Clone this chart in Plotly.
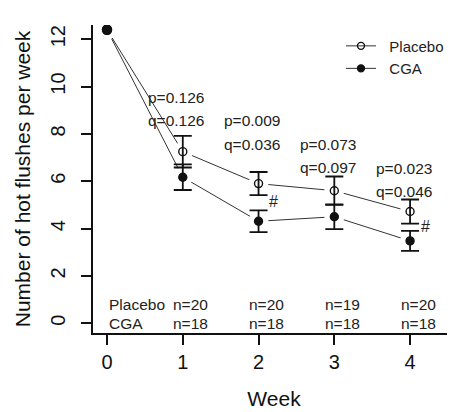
import plotly.graph_objects as go

# ---- data ----
weeks = [0, 1, 2, 3, 4]
placebo_mean = [12.4, 7.25, 5.9, 5.6, 4.72]
placebo_err = [None, 0.67, 0.49, 0.6, 0.51]
cga_mean = [12.4, 6.17, 4.31, 4.5, 3.48]
cga_err = [None, 0.54, 0.46, 0.52, 0.42]

p_labels = ["p=0.126", "p=0.009", "p=0.073", "p=0.023"]
q_labels = ["q=0.126", "q=0.036", "q=0.097", "q=0.046"]
label_weeks = [1, 2, 3, 4]
hash_weeks = [2, 4]

n_placebo = ["n=20", "n=20", "n=19", "n=20"]
n_cga = ["n=18", "n=18", "n=18", "n=18"]
group_names = ["Placebo", "CGA"]

FONT = "Liberation Sans, Arial, Helvetica, sans-serif"
INK = "#111111"
PAD = "\u00a0\u00a0"

fig = go.Figure()

series = [
    ("Placebo", placebo_mean, placebo_err, "circle-open"),
    ("CGA", cga_mean, cga_err, "circle"),
]

# connecting lines (with markers, used for legend)
for name, m, e, sym in series:
    fig.add_trace(go.Scatter(
        x=weeks, y=m, mode="lines+markers", name=PAD + name,
        line=dict(color="#333333", width=1),
        marker=dict(symbol=sym, size=7, color=INK, line=dict(color=INK, width=1.4)),
        showlegend=True, hoverinfo="skip"))

# white halos to create the gaps between line and point (R type="b")
for name, m, e, sym in series:
    fig.add_trace(go.Scatter(
        x=weeks, y=m, mode="markers", showlegend=False,
        marker=dict(symbol="circle", size=20, color="white", line=dict(width=0)),
        hoverinfo="skip"))

# baseline point (no error bar)
for name, m, e, sym in series:
    fig.add_trace(go.Scatter(
        x=weeks[:1], y=m[:1], mode="markers", showlegend=False,
        marker=dict(symbol="circle", size=9, color=INK, line=dict(color=INK, width=1.4)),
        hoverinfo="skip"))

# points with error bars
for name, m, e, sym in series:
    fig.add_trace(go.Scatter(
        x=weeks[1:], y=m[1:], mode="markers", showlegend=False,
        marker=dict(symbol=sym, size=8, color=INK, line=dict(color=INK, width=1.4)),
        error_y=dict(type="data", array=e[1:], visible=True, color=INK,
                     thickness=1.8, width=9),
        hoverinfo="skip"))

annotations = []
afont = dict(family=FONT, size=15.5, color="#222222")
for i, (w, p, q) in enumerate(zip(label_weeks, p_labels, q_labels)):
    ytop = 9.55 - 1.0 * i
    annotations.append(dict(x=w - 0.48, y=ytop, text=p, xref="x", yref="y",
                            showarrow=False, xanchor="left", yanchor="middle", font=afont))
    annotations.append(dict(x=w - 0.48, y=ytop - 0.98, text=q, xref="x", yref="y",
                            showarrow=False, xanchor="left", yanchor="middle", font=afont))

for w in hash_weeks:
    idx = weeks.index(w)
    ymid = ((placebo_mean[idx] - placebo_err[idx]) + (cga_mean[idx] + cga_err[idx])) / 2 + 0.05
    annotations.append(dict(x=w + 0.2, y=ymid, text="#", xref="x", yref="y",
                            showarrow=False, xanchor="center", yanchor="middle",
                            font=dict(family=FONT, size=16, color="#222222")))

nfont = dict(family=FONT, size=15.5, color="#222222")
annotations.append(dict(x=0.0, y=0.78, text=group_names[0], xref="x", yref="y",
                        showarrow=False, xanchor="left", yanchor="middle", font=nfont))
annotations.append(dict(x=0.0, y=0.0, text=group_names[1], xref="x", yref="y",
                        showarrow=False, xanchor="left", yanchor="middle", font=nfont))
for w, a, b in zip(label_weeks, n_placebo, n_cga):
    annotations.append(dict(x=w - 0.15, y=0.78, text=a, xref="x", yref="y",
                            showarrow=False, xanchor="left", yanchor="middle", font=nfont))
    annotations.append(dict(x=w - 0.15, y=0.0, text=b, xref="x", yref="y",
                            showarrow=False, xanchor="left", yanchor="middle", font=nfont))

fig.update_layout(
    width=447, height=404,
    margin=dict(l=85, r=0, t=17, b=79, autoexpand=False),
    paper_bgcolor="white", plot_bgcolor="white",
    font=dict(family=FONT, color=INK),
    annotations=annotations,
    legend=dict(x=0.685, y=0.985, xanchor="left", yanchor="top",
                font=dict(family=FONT, size=15, color="#222222"),
                bgcolor="rgba(0,0,0,0)", itemwidth=30, tracegroupgap=0),
)

fig.update_xaxes(
    range=[-0.185, 4.593], tickvals=weeks, ticktext=[str(w) for w in weeks],
    ticks="outside", ticklen=10, tickwidth=1.5, tickcolor=INK,
    showline=True, linewidth=1.5, linecolor=INK, mirror=False,
    showgrid=False, zeroline=False, automargin=False,
    tickfont=dict(family=FONT, size=20, color=INK),
    title=dict(text="Week", font=dict(family=FONT, size=21, color=INK), standoff=20),
)
fig.update_yaxes(
    range=[-0.41, 12.6], tickvals=[0, 2, 4, 6, 8, 10, 12], tickangle=-90,
    ticks="outside", ticklen=10, tickwidth=1.5, tickcolor=INK,
    showline=True, linewidth=1.5, linecolor=INK,
    showgrid=False, zeroline=False, automargin=False,
    ticklabelstandoff=8,
    tickfont=dict(family=FONT, size=20, color=INK),
    title=dict(text="Number of hot flushes per week",
               font=dict(family=FONT, size=21, color=INK), standoff=11),
)

fig.write_html("out.html")
